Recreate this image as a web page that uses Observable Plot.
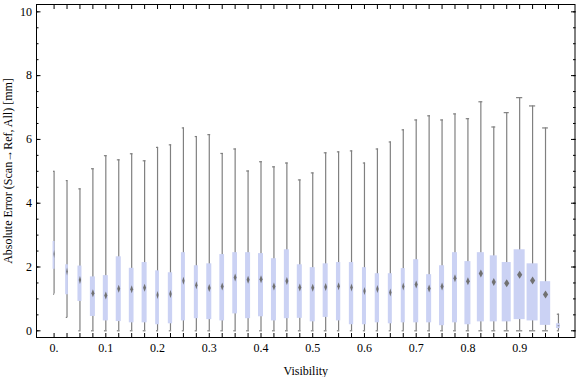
<!DOCTYPE html>
<html>
<head>
<meta charset="utf-8">
<script src="https://cdn.jsdelivr.net/npm/d3@7"></script>
<script src="https://cdn.jsdelivr.net/npm/@observablehq/plot@0.6"></script>
<style>
  html, body { margin: 0; padding: 0; background: white; }
</style>
</head>
<body>
<div id="chart"></div>
<script>
// ---- data ----
const visibility = [0, 0.025, 0.05, 0.075, 0.1, 0.125, 0.15, 0.175, 0.2, 0.225,
  0.25, 0.275, 0.3, 0.325, 0.35, 0.375, 0.4, 0.425, 0.45, 0.475,
  0.5, 0.525, 0.55, 0.575, 0.6, 0.625, 0.65, 0.675, 0.7, 0.725,
  0.75, 0.775, 0.8, 0.825, 0.85, 0.875, 0.9, 0.925, 0.95, 0.975];
const whiskerMax = [5.0, 4.71, 4.45, 5.08, 5.49, 5.36, 5.55, 5.33, 5.75, 5.83,
  6.36, 6.09, 6.15, 5.56, 5.70, 5.01, 5.30, 5.14, 5.26, 4.73,
  4.95, 5.58, 5.61, 5.64, 5.26, 5.70, 5.92, 6.30, 6.61, 6.74,
  6.61, 6.80, 6.65, 7.18, 6.39, 6.84, 7.31, 7.05, 6.36, 0.52];
const upperQuartile = [2.80, 2.07, 2.03, 1.69, 1.73, 2.32, 1.96, 2.14, 1.88, 1.82,
  2.45, 2.04, 2.10, 2.39, 2.45, 2.45, 2.42, 2.26, 2.54, 2.07,
  1.98, 2.10, 2.14, 2.14, 1.98, 1.79, 1.79, 1.95, 2.23, 1.76,
  2.04, 2.45, 2.17, 2.45, 2.35, 2.14, 2.54, 2.10, 1.54, 0.22];
const median = [2.41, 1.86, 1.59, 1.18, 1.11, 1.32, 1.30, 1.35, 1.12, 1.15,
  1.57, 1.43, 1.34, 1.39, 1.67, 1.60, 1.62, 1.39, 1.56, 1.36,
  1.35, 1.37, 1.40, 1.36, 1.25, 1.31, 1.20, 1.39, 1.45, 1.33,
  1.39, 1.65, 1.55, 1.80, 1.53, 1.49, 1.76, 1.58, 1.14, 0.16];
const lowerQuartile = [1.93, 1.13, 0.92, 0.45, 0.31, 0.29, 0.25, 0.25, 0.19, 0.22,
  0.31, 0.38, 0.35, 0.31, 0.53, 0.38, 0.44, 0.31, 0.38, 0.39,
  0.28, 0.42, 0.31, 0.19, 0.19, 0.25, 0.22, 0.25, 0.25, 0.25,
  0.16, 0.25, 0.19, 0.28, 0.28, 0.28, 0.35, 0.31, 0.17, 0.07];
const whiskerMin = [1.15, 0.42, 0, 0, 0, 0, 0, 0, 0, 0,
  0, 0, 0, 0, 0, 0, 0, 0, 0, 0,
  0, 0, 0, 0, 0, 0, 0, 0, 0, 0,
  0, 0, 0, 0, 0, 0, 0, 0, 0, 0];
// relative weight of each bin (drives box width)
const binWeight = [0.4, 0.54, 0.8, 1, 1, 1, 0.94, 1, 0.74, 0.86,
  0.8, 0.8, 1, 0.94, 0.94, 1, 1, 1, 1, 1,
  1, 1, 0.86, 0.86, 0.8, 0.86, 0.8, 0.8, 1, 1,
  1, 1, 1.2, 1.4, 1.4, 1.8, 2.2, 2.2, 2.06, 0.8];

const xTickValues = [0, 0.1, 0.2, 0.3, 0.4, 0.5, 0.6, 0.7, 0.8, 0.9];
const xTickLabels = ["0.", "0.1", "0.2", "0.3", "0.4", "0.5", "0.6", "0.7", "0.8", "0.9"];
const yMajorTicks = [0, 2, 4, 6, 8, 10];
const yMinorTicks = [0, 0.5, 1, 1.5, 2, 2.5, 3, 3.5, 4, 4.5, 5, 5.5, 6, 6.5, 7, 7.5, 8, 8.5, 9, 9.5, 10];
const xLabel = "Visibility";
const yLabel = "Absolute Error (Scan\u2192Ref, All) [mm]";

// ---- build table ----
const rows = visibility.map((v, i) => ({
  v, hi: whiskerMax[i], q3: upperQuartile[i], med: median[i],
  q1: lowerQuartile[i], lo: whiskerMin[i], w: binWeight[i]
}));
const boxUnit = 0.0097; // width (in visibility units) of a weight-1 box

const diamond = {
  draw(context, size) {
    const r = Math.sqrt(size / Math.PI);
    const w = Math.min(r, 2.6);
    const h = 4;
    context.moveTo(0, -h);
    context.lineTo(w, 0);
    context.lineTo(0, h);
    context.lineTo(-w, 0);
    context.closePath();
  }
};
const smallDiamond = {
  draw(context, size) {
    const r = Math.sqrt(size / Math.PI);
    context.moveTo(-r, 0);
    context.lineTo(0, -0.8);
    context.lineTo(r, 0);
    context.lineTo(0, 0.8);
    context.closePath();
  }
};

const whiskerColor = "#808080";
const chart = Plot.plot({
  width: 576,
  height: 377,
  marginLeft: 36,
  marginRight: 1.5,
  marginTop: 4,
  marginBottom: 40,
  x: {domain: [-0.034, 1.007]},
  y: {domain: [-0.21, 10.23]},
  r: {type: "identity"},
  style: {fontFamily: "'Liberation Serif', 'DejaVu Serif', serif", fontSize: "12px", color: "black", background: "white"},
  marks: [
    Plot.ruleX(rows, {x: "v", y1: "lo", y2: "hi", stroke: whiskerColor, strokeWidth: 1.2}),
    Plot.ruleY(rows, {y: "hi", x1: d => d.v - d.w * boxUnit * 0.28, x2: d => d.v + d.w * boxUnit * 0.28, stroke: whiskerColor, strokeWidth: 1.2}),
    Plot.ruleY(rows, {y: "lo", x1: d => d.v - d.w * boxUnit * 0.28, x2: d => d.v + d.w * boxUnit * 0.28, stroke: whiskerColor, strokeWidth: 1.2}),
    Plot.rect(rows, {x1: d => d.v - d.w * boxUnit / 2, x2: d => d.v + d.w * boxUnit / 2, y1: "q1", y2: "q3", fill: "#CBD2F4"}),
    Plot.dot(rows.filter(d => d.q3 - d.q1 >= 0.5), {x: "v", y: "med", r: d => d.w * 1.5, symbol: diamond, fill: "#717171", stroke: "none"}),
    Plot.dot(rows.filter(d => d.q3 - d.q1 < 0.5), {x: "v", y: "med", r: d => d.w * 1.5, symbol: smallDiamond, fill: "#8a8a8a", stroke: "none"}),
    Plot.frame({stroke: "black"}),
    // bottom: inward ticks at each bin, labels every 0.1
    Plot.axisX(visibility, {anchor: "bottom", tickSize: -4, tickFormat: () => "", label: null}),
    Plot.axisX(xTickValues, {anchor: "bottom", tickSize: 0, tickPadding: 6, tickFormat: d => xTickLabels[xTickValues.indexOf(d)], label: xLabel, labelAnchor: "center", labelArrow: "none"}),
    // top mirrored ticks
    Plot.axisX(visibility, {anchor: "top", tickSize: -4, tickFormat: () => "", label: null}),
    // left
    Plot.axisY(yMinorTicks, {anchor: "left", tickSize: -2.5, tickFormat: () => "", label: null}),
    Plot.axisY(yMajorTicks, {anchor: "left", tickSize: -4.5, tickFormat: () => "", label: null}),
    Plot.axisY(yMajorTicks, {anchor: "left", tickSize: 0, tickPadding: 4.5, label: yLabel, labelAnchor: "center", labelArrow: "none"}),
    // right mirrored ticks
    Plot.axisY(yMinorTicks, {anchor: "right", tickSize: -2.5, tickFormat: () => "", label: null}),
    Plot.axisY(yMajorTicks, {anchor: "right", tickSize: -4.5, tickFormat: () => "", label: null})
  ]
});
document.getElementById("chart").appendChild(chart);
</script>
</body>
</html>
